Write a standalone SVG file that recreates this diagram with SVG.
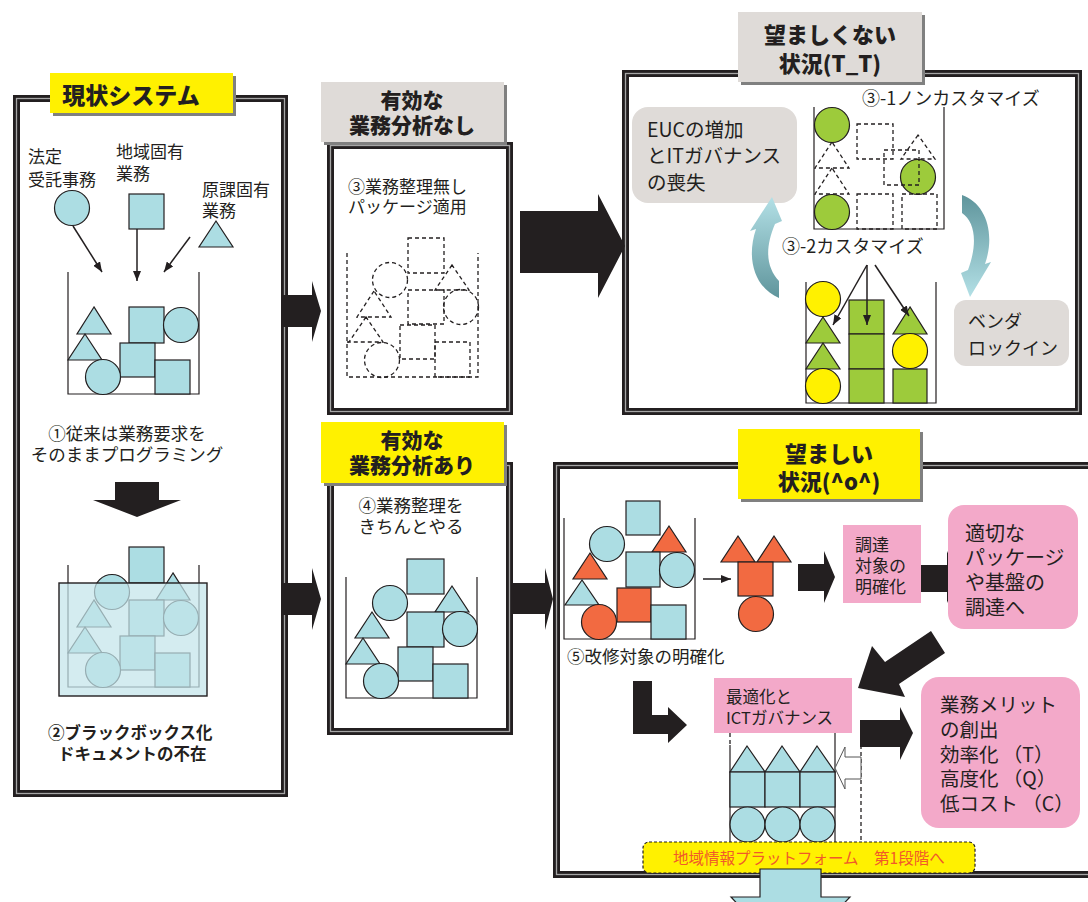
<svg xmlns="http://www.w3.org/2000/svg" width="1088" height="902" viewBox="0 0 1088 902">
  <defs>
    <style>
      text { font-family: "Noto Sans CJK JP", "Noto Sans", sans-serif; fill: #231f20; }
      .ttl { font-weight: 900; font-size: 22px; text-anchor: middle; }
      .t17 { font-size: 17px; }
      .t18 { font-size: 18px; }
      .t19 { font-size: 19.5px; }
      .frame-o { fill: none; stroke: #231f20; stroke-width: 7; }
      .frame-i { fill: none; stroke: #a6a6a6; stroke-width: 1.3; }
      .shadow { fill: #808080; }
      .yel { fill: #fff100; }
      .gry { fill: #dfdbd8; }
      .pink { fill: #f3a9c9; }
      .bin { fill: none; stroke: #231f20; stroke-width: 1.2; }
      .lb { fill: #acdde3; stroke: #231f20; stroke-width: 1.2; }
      .or { fill: #f26a41; stroke: #231f20; stroke-width: 1.2; }
      .gr { fill: #9dcb3b; stroke: #231f20; stroke-width: 1.2; }
      .ye { fill: #fff100; stroke: #231f20; stroke-width: 1.2; }
      .ds { fill: none; stroke: #231f20; stroke-width: 1.3; stroke-dasharray: 4 3; }
      .blk { fill: #231f20; }
      .thin { fill: none; stroke: #231f20; stroke-width: 1.5; marker-end: url(#ah); }
    </style>
    <marker id="ah" viewBox="0 0 10 8" refX="10" refY="4" markerWidth="10" markerHeight="8" markerUnits="userSpaceOnUse" orient="auto">
      <path d="M0,0 L10,4 L0,8 z" fill="#231f20"/>
    </marker>
    <linearGradient id="gL" x1="0" y1="197" x2="0" y2="298" gradientUnits="userSpaceOnUse">
      <stop offset="0" stop-color="#b3e0e6"/>
      <stop offset="1" stop-color="#5f959c"/>
    </linearGradient>
    <linearGradient id="gR" x1="0" y1="195" x2="0" y2="297" gradientUnits="userSpaceOnUse">
      <stop offset="0" stop-color="#5f959c"/>
      <stop offset="1" stop-color="#b3e0e6"/>
    </linearGradient>
  </defs>

  <rect width="1088" height="902" fill="#ffffff"/>

  <!-- Current system -->
  <g id="current-system">
    <rect class="frame-o" x="16.5" y="98.5" width="268" height="695"/>
    <rect class="frame-i" x="16.5" y="98.5" width="268" height="695"/>
    <rect class="shadow" x="53" y="76" width="183" height="40"/>
    <rect class="yel" x="50" y="73" width="183" height="40"/>
    <text class="ttl" x="131" y="104" style="font-size:23px">現状システム</text>

    <text class="t17" x="28" y="163">法定</text>
    <text class="t17" x="28" y="186">受託事務</text>
    <text class="t17" x="116" y="158">地域固有</text>
    <text class="t17" x="116" y="180">業務</text>
    <text class="t17" x="202" y="196">原課固有</text>
    <text class="t17" x="202" y="217">業務</text>
    <circle class="lb" cx="72" cy="208" r="17.5"/>
    <rect class="lb" x="129" y="194" width="35" height="35"/>
    <polygon class="lb" points="216,221 199,247 233,247"/>

    <g transform="translate(68,394)">
      <path class="bin" d="M0,-122 V0 H131 V-122"/>
      <rect class="lb" x="61" y="-87" width="35" height="36"/>
      <circle class="lb" cx="113" cy="-69" r="17.5"/>
      <polygon class="lb" points="26,-87 9,-60 43,-60"/>
      <polygon class="lb" points="17,-60 0,-34 34,-34"/>
      <rect class="lb" x="52" y="-51" width="35" height="34"/>
      <circle class="lb" cx="35" cy="-17" r="17.5"/>
      <rect class="lb" x="87" y="-34" width="35" height="34"/>
    </g>

    <text x="127" y="440" text-anchor="middle" style="font-size:17.5px">①従来は業務要求を</text>
    <text x="127" y="461" text-anchor="middle" style="font-size:17.5px">そのままプログラミング</text>
    <polygon class="blk" points="115,482 159,482 159,500 181,500 137,517 93,500 115,500"/>

    <g transform="translate(68,687)">
      <path class="bin" d="M0,-122 V0 H131 V-122"/>
      <rect class="lb" x="61" y="-140" width="35" height="36"/>
      <circle class="lb" cx="44" cy="-95" r="17.5"/>
      <polygon class="lb" points="105,-114 88,-87 122,-87"/>
      <rect class="lb" x="61" y="-87" width="35" height="36"/>
      <circle class="lb" cx="113" cy="-69" r="17.5"/>
      <polygon class="lb" points="26,-87 9,-60 43,-60"/>
      <polygon class="lb" points="17,-60 0,-34 34,-34"/>
      <rect class="lb" x="52" y="-51" width="35" height="34"/>
      <circle class="lb" cx="35" cy="-17" r="17.5"/>
      <rect class="lb" x="87" y="-34" width="35" height="34"/>
      <rect x="-9" y="-104" width="148" height="113" fill="#c3e5ea" fill-opacity="0.72" stroke="#231f20" stroke-width="1.4"/>
    </g>

    <text x="48" y="739" style="font-size:16.5px;font-weight:700">②ブラックボックス化</text>
    <text x="58" y="760" style="font-size:16.5px;font-weight:700">ドキュメントの不在</text>
  </g>

  <!-- Without business analysis -->
  <g id="no-analysis">
    <rect class="frame-o" x="330.5" y="145.5" width="179" height="266"/>
    <rect class="frame-i" x="330.5" y="145.5" width="179" height="266"/>
    <rect class="shadow" x="324" y="85" width="183" height="60"/>
    <rect class="gry" x="321" y="82" width="183" height="60"/>
    <text class="ttl" x="412" y="108" style="font-size:21px">有効な</text>
    <text class="ttl" x="412" y="133" style="font-size:21px">業務分析なし</text>
    <text class="t17" x="348" y="193">③業務整理無し</text>
    <text class="t17" x="348" y="213">パッケージ適用</text>
    <g transform="translate(347,377)">
      <path class="ds" d="M0,-124 V0 H131 V-124"/>
      <rect class="ds" x="61" y="-139" width="36" height="35"/>
      <circle class="ds" cx="43" cy="-97" r="17.5"/>
      <polygon class="ds" points="105,-112 88,-87 122,-87"/>
      <rect class="ds" x="61" y="-87" width="36" height="34"/>
      <circle class="ds" cx="114" cy="-70" r="17.5"/>
      <polygon class="ds" points="27,-86 10,-60 44,-60"/>
      <polygon class="ds" points="19,-60 2,-35 36,-35"/>
      <rect class="ds" x="53" y="-52" width="35" height="34"/>
      <circle class="ds" cx="35" cy="-17" r="17.5"/>
      <rect class="ds" x="88" y="-35" width="35" height="35"/>
      <path class="ds" d="M0,-35 H2"/>
    </g>
  </g>

  <!-- Undesirable situation -->
  <g id="undesirable">
    <rect class="frame-o" x="625.5" y="73.5" width="453" height="338"/>
    <rect class="frame-i" x="625.5" y="73.5" width="453" height="338"/>
    <rect class="shadow" x="741" y="15" width="184" height="70"/>
    <rect class="gry" x="738" y="12" width="184" height="70"/>
    <text class="ttl" x="830" y="43">望ましくない</text>
    <text class="ttl" x="830" y="72">状況(T_T)</text>

    <text class="t18" x="862" y="105">③-1ノンカスタマイズ</text>
    <path class="bin" d="M814,107 V229 H944 V107"/>
    <circle class="gr" cx="832" cy="125" r="17.5"/>
    <circle class="gr" cx="832" cy="212" r="17.5"/>
    <circle class="gr" cx="918" cy="177" r="17.5"/>
    <polygon class="ds" points="832,142 815,168 849,168"/>
    <polygon class="ds" points="832,168 815,194 849,194"/>
    <rect class="ds" x="857" y="124" width="36" height="35"/>
    <rect class="ds" x="884" y="150" width="35" height="35"/>
    <polygon class="ds" points="918,135 901,159 935,159"/>
    <rect class="ds" x="857" y="194" width="36" height="35"/>
    <rect class="ds" x="902" y="194" width="35" height="35"/>

    <text class="t18" x="782" y="253">③-2カスタマイズ</text>
    <path class="bin" d="M806,282 V403 H936 V282"/>
    <circle class="ye" cx="823" cy="299" r="17.5"/>
    <polygon class="gr" points="823,317 806,343 840,343"/>
    <polygon class="gr" points="823,343 806,369 840,369"/>
    <circle class="ye" cx="823" cy="386" r="17.5"/>
    <rect class="gr" x="849" y="300" width="35" height="34"/>
    <rect class="gr" x="849" y="334" width="35" height="35"/>
    <rect class="gr" x="849" y="369" width="35" height="34"/>
    <polygon class="gr" points="910,307 893,334 927,334"/>
    <circle class="ye" cx="910" cy="351" r="17.5"/>
    <rect class="gr" x="893" y="369" width="34" height="34"/>
  </g>

  <g id="euc">
    <rect class="gry" x="632" y="107" width="165" height="96" rx="16"/>
    <text class="t19" x="647" y="137">EUCの増加</text>
    <text class="t19" x="647" y="163">とITガバナンス</text>
    <text class="t19" x="647" y="190">の喪失</text>
  </g>

  <g id="vendor-lockin">
    <rect class="gry" x="954" y="300" width="115" height="66" rx="12"/>
    <text class="t18" x="968" y="328">ベンダ</text>
    <text class="t18" x="968" y="355">ロックイン</text>
  </g>

  <!-- With business analysis -->
  <g id="with-analysis">
    <rect class="frame-o" x="330.5" y="465.5" width="179" height="266"/>
    <rect class="frame-i" x="330.5" y="465.5" width="179" height="266"/>
    <rect class="shadow" x="324" y="425" width="183" height="61"/>
    <rect class="yel" x="321" y="422" width="183" height="61"/>
    <text class="ttl" x="412" y="448" style="font-size:21px">有効な</text>
    <text class="ttl" x="412" y="473" style="font-size:21px">業務分析あり</text>
    <text x="411" y="512" text-anchor="middle" style="font-size:17.5px">④業務整理を</text>
    <text x="411" y="533" text-anchor="middle" style="font-size:17.5px">きちんとやる</text>
    <g transform="translate(346,698)">
      <path class="bin" d="M0,-121 V0 H131 V-121"/>
      <rect class="lb" x="61" y="-139" width="37" height="35"/>
      <circle class="lb" cx="44" cy="-95" r="17.5"/>
      <polygon class="lb" points="106,-112 89,-86 123,-86"/>
      <rect class="lb" x="61" y="-86" width="37" height="35"/>
      <circle class="lb" cx="114" cy="-69" r="17.5"/>
      <polygon class="lb" points="26,-86 9,-60 43,-60"/>
      <polygon class="lb" points="17,-60 0,-34 34,-34"/>
      <rect class="lb" x="52" y="-51" width="35" height="34"/>
      <circle class="lb" cx="35" cy="-17" r="17.5"/>
      <rect class="lb" x="87" y="-34" width="35" height="34"/>
    </g>
  </g>

  <!-- Desirable situation -->
  <g id="desirable">
    <rect class="frame-o" x="556.5" y="465.5" width="560" height="409"/>
    <rect class="frame-i" x="556.5" y="465.5" width="560" height="409"/>
    <rect class="shadow" x="741" y="432" width="182" height="70"/>
    <rect class="yel" x="738" y="429" width="182" height="70"/>
    <text class="ttl" x="829" y="462">望ましい</text>
    <text class="ttl" x="829" y="490">状況(^o^)</text>

    <g transform="translate(564,639)">
      <path class="bin" d="M0,-121 V0 H131 V-121"/>
      <rect class="lb" x="62" y="-138" width="34" height="34"/>
      <circle class="lb" cx="43" cy="-95" r="17.5"/>
      <polygon class="or" points="105,-113 88,-87 122,-87"/>
      <rect class="lb" x="62" y="-87" width="34" height="35"/>
      <circle class="lb" cx="113" cy="-69" r="17.5"/>
      <polygon class="or" points="26,-86 9,-60 43,-60"/>
      <polygon class="lb" points="18,-59 1,-34 35,-34"/>
      <rect class="or" x="53" y="-51" width="34" height="34"/>
      <circle class="or" cx="35" cy="-17" r="17.5"/>
      <rect class="lb" x="87" y="-34" width="35" height="34"/>
    </g>
    <text x="567" y="663" style="font-size:17.5px">⑤改修対象の明確化</text>

    <polygon class="or" points="738,536 721,562 755,562"/>
    <polygon class="or" points="774,536 757,562 791,562"/>
    <rect class="or" x="738" y="562" width="35" height="34"/>
    <circle class="or" cx="756" cy="614" r="17.5"/>

    <!-- platform stack -->
    <path class="bin" d="M730,745 V842 M835,733 V842"/>
    <path class="ds" d="M730,733 V745 M861,745 V842"/>
    <polygon class="lb" points="747,746 730,772 765,772"/>
    <polygon class="lb" points="782,746 765,772 800,772"/>
    <polygon class="lb" points="817,746 800,772 835,772"/>
    <rect class="lb" x="730" y="772" width="35" height="35"/>
    <rect class="lb" x="765" y="772" width="35" height="35"/>
    <rect class="lb" x="800" y="772" width="35" height="35"/>
    <circle class="lb" cx="747.5" cy="824.5" r="17.5"/>
    <circle class="lb" cx="782.5" cy="824.5" r="17.5"/>
    <circle class="lb" cx="817.5" cy="824.5" r="17.5"/>
  </g>

  <g id="platform">
    <rect x="643" y="842" width="332" height="31" rx="6" fill="#fff100" stroke="#231f20" stroke-width="1.2" stroke-dasharray="3 2"/>
    <text x="673" y="864" style="font-size:15.5px;fill:#f15a29">地域情報プラットフォーム　第1段階へ</text>
  </g>

  <!-- Connectors -->
  <g id="connectors">
    <line class="thin" x1="73" y1="226" x2="102" y2="272"/>
    <line class="thin" x1="137" y1="229" x2="137" y2="281"/>
    <line class="thin" x1="190" y1="237" x2="164" y2="272"/>
    <line class="thin" x1="867" y1="265" x2="833" y2="325"/>
    <line class="thin" x1="867" y1="265" x2="867" y2="325"/>
    <line class="thin" x1="875" y1="265" x2="909" y2="316"/>
    <line class="thin" x1="703" y1="579" x2="731" y2="579"/>

    <polygon class="blk" points="283,295 312,295 312,281 321,311 312,342 312,327 283,327"/>
    <polygon class="blk" points="283,583 312,583 312,568 321,599 312,630 312,615 283,615"/>
    <polygon class="blk" points="520,211 598,211 598,194 625,246 598,298 598,273 520,273"/>
    <polygon class="blk" points="513,583 545,583 545,568 553,599 545,630 545,614 513,614"/>

    <path d="M779,298 C757,289 745,262 756,229 L750,231 L772,197 L782,221 L775,224 C764,250 767,268 779,281 Z" fill="url(#gL)"/>
    <path d="M962,195 C985,203 996,232 985,264 L991,262 L970,297 L961,273 L968,270 C978,243 975,222 962,213 Z" fill="url(#gR)"/>

    <polygon class="blk" points="798,564 824,564 824,551 835,577 824,603 824,591 798,591"/>
    <polygon class="blk" points="921,565 947,565 947,551 958,577 947,603 947,592 921,592"/>
    <polygon class="blk" points="945,653 931,631 885,662 872,646 858,688 905,697 899,684"/>
    <polygon class="blk" points="633,681 652,681 652,715 668,715 668,707 687,725 668,743 668,734 633,734"/>
    <polygon class="blk" points="860,720 900,720 900,707 913,733 900,760 900,747 860,747"/>
    <polygon points="861,757 845,757 845,747 835,768 845,789 845,779 861,779" fill="#ffffff" stroke="#555555" stroke-width="1"/>
    <polygon points="760,869 821,869 821,897 850,897 790,960 731,897 760,897" fill="#acdde3" stroke="#231f20" stroke-width="1.2"/>
  </g>

  <g id="procurement-target">
    <rect class="pink" x="843" y="525" width="78" height="78"/>
    <text class="t17" x="855" y="551">調達</text>
    <text class="t17" x="855" y="572">対象の</text>
    <text class="t17" x="855" y="593">明確化</text>
  </g>

  <g id="procurement">
    <rect class="pink" x="948" y="505" width="130" height="124" rx="16"/>
    <text x="965" y="541" style="font-size:20px">適切な</text>
    <text x="965" y="565" style="font-size:20px">パッケージ</text>
    <text x="965" y="590" style="font-size:20px">や基盤の</text>
    <text x="965" y="615" style="font-size:20px">調達へ</text>
  </g>

  <g id="optimization">
    <rect class="pink" x="714" y="678" width="138" height="55"/>
    <text x="726" y="703" style="font-size:16.5px">最適化と</text>
    <text x="726" y="724" style="font-size:16.5px">ICTガバナンス</text>
  </g>

  <g id="merits">
    <rect class="pink" x="921" y="677" width="159" height="151" rx="18"/>
    <text x="940" y="712" style="font-size:19.5px">業務メリット</text>
    <text x="940" y="737" style="font-size:19.5px">の創出</text>
    <text x="940" y="762" style="font-size:19.5px">効率化 （T）</text>
    <text x="940" y="786" style="font-size:19.5px">高度化 （Q）</text>
    <text x="940" y="811" style="font-size:19.5px">低コスト （C）</text>
  </g>
</svg>
